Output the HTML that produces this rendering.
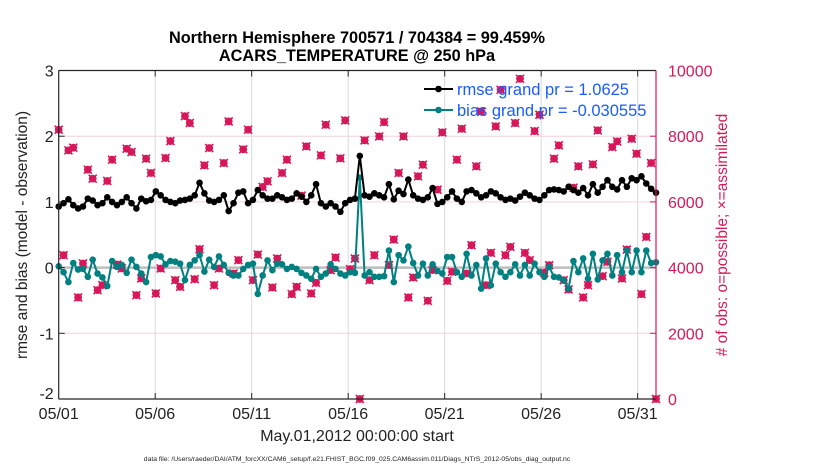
<!DOCTYPE html>
<html><head><meta charset="utf-8"><style>
body{margin:0;background:#fff;}
svg{display:block;font-family:"Liberation Sans",Arial,sans-serif;}
</style></head><body>
<svg id="chart" width="830" height="470" viewBox="0 0 830 470">
<rect x="0" y="0" width="830" height="470" fill="#fff"/>
<g id="grid"></g>
<line id="zeroline"/>
<g id="obsmarks"></g>
<g id="series"></g>
<g id="axes"></g>
<text x="357" y="43" text-anchor="middle" font-size="16.3" font-weight="bold" fill="#000">Northern Hemisphere 700571 / 704384 = 99.459%</text>
<text x="357" y="61" text-anchor="middle" font-size="16.3" font-weight="bold" fill="#000">ACARS_TEMPERATURE @ 250 hPa</text>
<text transform="translate(27,235) rotate(-90)" text-anchor="middle" font-size="15.5" fill="#222">rmse and bias (model - observation)</text>
<text transform="translate(727,235) rotate(-90)" text-anchor="middle" font-size="15.5" fill="#d6185a"># of obs: o=possible; ×=assimilated</text>
<text x="357" y="441" text-anchor="middle" font-size="16" fill="#222">May.01,2012 00:00:00 start</text>
<text x="357" y="461" text-anchor="middle" font-size="6.8" fill="#222">data file: /Users/raeder/DAI/ATM_forcXX/CAM6_setup/f.e21.FHIST_BGC.f09_025.CAM6assim.011/Diags_NTrS_2012-05/obs_diag_output.nc</text>
<g id="legend">
  <line x1="424" y1="89" x2="453" y2="89" stroke="#000" stroke-width="2"/>
  <circle cx="438.5" cy="89" r="3.3" fill="#000"/>
  <text x="457" y="95" font-size="16.5" fill="#1a5cff">rmse grand pr = 1.0625</text>
  <line x1="424" y1="110" x2="453" y2="110" stroke="#008080" stroke-width="2"/>
  <circle cx="438.5" cy="110" r="3.3" fill="#008080"/>
  <text x="457" y="116" font-size="16.5" fill="#1a5cff">bias grand pr = -0.030555</text>
</g>
</svg>
<script>
const rmseValues = [0.93,0.98,1.04,0.95,0.90,0.93,1.05,1.02,0.95,0.98,1.07,1.00,0.95,1.00,1.07,0.98,0.90,1.05,1.01,1.03,
1.16,1.10,1.03,1.00,0.98,1.02,1.03,1.05,1.10,1.29,1.13,1.02,1.00,1.03,1.10,0.86,0.98,1.14,1.16,0.98,1.03,
1.18,1.10,1.05,1.05,1.10,1.07,1.03,1.05,1.13,1.08,1.00,1.10,1.27,0.98,0.93,0.98,0.93,0.85,0.98,1.03,
1.05,1.70,1.10,1.08,1.13,1.10,1.07,1.27,1.04,1.17,1.12,1.34,1.10,1.05,1.03,1.07,1.21,0.97,1.00,1.07,1.16,
1.05,1.00,1.16,1.18,1.13,1.07,1.10,1.16,1.13,1.07,1.03,1.05,1.02,1.08,1.14,1.10,1.05,1.03,1.10,1.18,1.19,
1.18,1.16,1.23,1.18,1.14,1.21,1.10,1.27,1.14,1.23,1.33,1.23,1.19,1.33,1.23,1.36,1.33,1.39,1.28,1.20,1.14];
const biasValues = [0.02,-0.07,-0.22,0.07,-0.03,-0.02,-0.14,0.12,-0.09,-0.15,-0.28,0.10,0.01,0.04,-0.08,0.12,0.01,-0.09,-0.22,0.16,
0.19,0.17,0.05,0.10,0.09,0.06,-0.19,0.04,0.11,0.19,-0.06,0.12,0.01,0.17,0.04,-0.08,-0.12,-0.12,-0.02,0.04,0.06,
-0.40,-0.12,0.11,-0.04,0.06,0.05,-0.02,0.01,-0.02,-0.08,-0.12,-0.17,-0.02,-0.14,-0.09,0.05,-0.02,-0.09,-0.12,-0.07,
-0.08,1.37,-0.12,-0.07,-0.14,-0.14,-0.13,0.26,-0.22,0.19,0.11,0.32,0.07,-0.12,0.06,-0.12,0.05,-0.05,-0.09,0.16,0.16,
-0.07,-0.14,0.21,-0.12,0.04,-0.32,0.14,-0.27,0.06,-0.07,-0.14,-0.07,0.05,-0.12,0.04,-0.12,0.06,-0.07,-0.14,0.01,-0.14,
-0.15,-0.19,-0.32,0.10,-0.07,0.14,-0.17,0.21,-0.18,0.11,0.21,-0.12,0.19,-0.07,0.26,-0.07,0.26,-0.07,0.26,0.07,0.08];
const obsCounts = [8197,4378,7569,7650,3091,4125,6981,6708,3314,3466,6637,7285,4094,3973,7619,7518,3162,3669,7316,6880,3213,3973,7336,7852,3618,3415,8612,8400,3648,4560,7113,7640,3466,
3973,7184,8450,3821,4226,7600,8197,3618,4398,6455,6627,3395,4277,6880,7285,3193,3415,6191,7690,3213,3537,7417,8349,3922,4307,7326,8480,3952,4277,0,
7873,
3618,4378,7994,8430,4074,4854,6880,7994,3091,3699,6779,7133,2990,3922,6373,8116,3598,3871,7285,8227,3821,4682,7083,8754,3466,4449,8298,9412,4378,4631,
8400,9747,4449,4226,8156,8653,3841,4074,7316,7721,3618,3334,6434,7083,3091,3466,7143,8177,3740,4175,7670,7842,3669,4550,7923,7467,3193,4935,7184,0];
const xTickLabels = ["05/01","05/06","05/11","05/16","05/21","05/26","05/31"];
const xTickDays = [0,5,10,15,20,25,30];
const leftTicks = [3,2,1,0,-1,-2];
const rightTicks = [10000,8000,6000,4000,2000,0];

const NS = "http://www.w3.org/2000/svg";
const L = 58.7, R = 656, T = 70.5, B = 399;
const dayMax = 30.95;
const stepDays = dayMax / 123;
function xDay(d){ return L + d / dayMax * (R - L); }
function xIdx(i){ return xDay(i * stepDays); }
function yLeft(v){ return B - (v + 2) / 5 * (B - T); }
function yRight(n){ return B - n / 10000 * (B - T); }
function mk(tag, attrs, parent){
  const e = document.createElementNS(NS, tag);
  for (const k in attrs) e.setAttribute(k, attrs[k]);
  parent.appendChild(e);
  return e;
}
const grid = document.getElementById('grid');
const axes = document.getElementById('axes');

xTickDays.forEach((d, k) => {
  const x = xDay(d);
  if (k > 0) {
    const g = mk('line', {x1:x, y1:T, x2:x, y2:B, stroke:'#d9d9d9', 'stroke-width':1}, grid);
    
    
    const t1 = mk('line', {x1:x, y1:B, x2:x, y2:B-6, stroke:'#262626', 'stroke-width':1}, axes);
    
    
    const t2 = mk('line', {x1:x, y1:T, x2:x, y2:T+6, stroke:'#262626', 'stroke-width':1}, axes);
    
    
  }
  const lb = mk('text', {x:x, y:B+20, 'text-anchor':'middle', 'font-size':16, fill:'#222'}, axes);
  lb.textContent = xTickLabels[k];
  
  
});
rightTicks.forEach((n) => {
  const y = yRight(n);
  if (n > 0 && n < 10000) {
    const g = mk('line', {x1:L, y1:y, x2:R, y2:y, stroke:'#f0d4de', 'stroke-width':1}, grid);
    
    
  }
  const t = mk('line', {x1:R, y1:y, x2:R-6, y2:y, stroke:'#d6185a', 'stroke-width':1}, axes);
  
  
  const lb = mk('text', {x:R+12, y:y+6, 'font-size':16, fill:'#d6185a'}, axes);
  lb.textContent = String(n);
  
  
});
leftTicks.forEach((v) => {
  const y = yLeft(v);
  const t = mk('line', {x1:L, y1:y, x2:L+6, y2:y, stroke:'#262626', 'stroke-width':1}, axes);
  
  
  const lb = mk('text', {x:L-5, y:y+(v === -2 ? 0 : 6), 'text-anchor':'end', 'font-size':16, fill:'#222'}, axes);
  lb.textContent = String(v);
  
  
});
const frame = [['left-axis-line',L,T,L,B,'#262626'],['bottom-axis-line',L,B,R,B,'#262626'],['top-axis-line',L,T,R,T,'#262626'],['right-axis-line',R,T,R,B,'#d6185a']];
frame.forEach(f => {
  const e = mk('line', {x1:f[1], y1:f[2], x2:f[3], y2:f[4], stroke:f[5], 'stroke-width':1.2}, axes);
  
  
});

const zl = document.getElementById('zeroline');
zl.setAttribute('x1', L); zl.setAttribute('x2', R);
zl.setAttribute('y1', yLeft(0)); zl.setAttribute('y2', yLeft(0));
zl.setAttribute('stroke', '#bdbdbd'); zl.setAttribute('stroke-width', 2.5);

const om = document.getElementById('obsmarks');
obsCounts.forEach((n, i) => {
  const x = xIdx(i), y = yRight(n);
  const g = mk('g', {}, om);
  
  
  mk('circle', {cx:x, cy:y, r:3.3, fill:'#d6185a', stroke:'#d6185a', 'stroke-width':1.2}, g);
  mk('path', {d:`M${x-4},${y-4}L${x+4},${y+4}M${x-4},${y+4}L${x+4},${y-4}`, stroke:'#d6185a', 'stroke-width':1.6}, g);
});

const sg = document.getElementById('series');
function drawSeries(vals, color, name){
  const pts = vals.map((v, i) => xIdx(i).toFixed(1) + ',' + yLeft(v).toFixed(1)).join(' ');
  const pl = mk('polyline', {points:pts, fill:'none', stroke:color, 'stroke-width':2, 'stroke-linejoin':'round'}, sg);
  
  
  vals.forEach((v, i) => {
    const c = mk('circle', {cx:xIdx(i), cy:yLeft(v), r:3.3, fill:color}, sg);
    
    
  });
}
drawSeries(biasValues, '#008080', 'bias');
drawSeries(rmseValues, '#000000', 'rmse');
</script>
</body></html>
